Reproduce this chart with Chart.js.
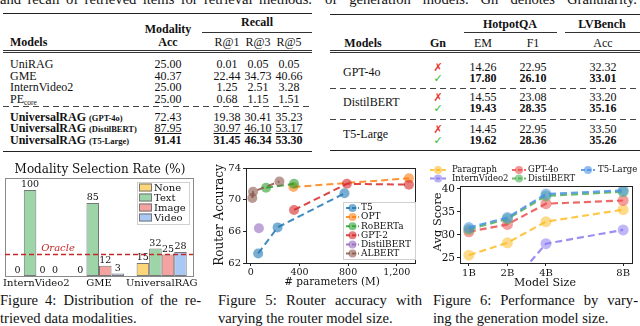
<!DOCTYPE html>
<html>
<head>
<meta charset="utf-8">
<script src="https://cdn.jsdelivr.net/npm/chart.js@4.4.1/dist/chart.umd.min.js"></script>
<style>
html,body{margin:0;padding:0;background:#fff;}
body{width:640px;height:326px;position:relative;overflow:hidden;font-family:"Liberation Serif","Times New Roman",serif;color:#111;}
.t{position:absolute;white-space:nowrap;font-size:12px;line-height:12px;}
.t sub{font-size:7.5px;line-height:0;vertical-align:-2px;}
.b{font-weight:bold;}
.u{text-decoration:underline;}
.sm{font-size:8.5px;font-weight:bold;}
.cap{position:absolute;white-space:nowrap;font-size:14.6px;line-height:18px;}
.just{text-align:justify;text-align-last:justify;white-space:normal;}
.rule{position:absolute;height:0;border-top:1.5px solid #222;}
.thin{position:absolute;height:0;border-top:0.8px solid #333;}
.dash{position:absolute;height:1px;background:repeating-linear-gradient(90deg,#444 0 6px,transparent 6px 10px);}
.mk{font-family:"DejaVu Sans",sans-serif;font-size:11px;}
canvas{position:absolute;}
</style>
</head>
<body>

<div class="cap just" style="left:0;top:-10px;width:312px;">and recall of retrieved items for retrieval methods.</div>
<div class="cap just" style="left:325px;top:-10px;width:312px;">of generation models. Gn denotes Granularity.</div>

<canvas id="fig4" width="205" height="135" style="left:0;top:155px;"></canvas>
<canvas id="fig5" width="215" height="135" style="left:205px;top:155px;"></canvas>
<canvas id="fig6" width="220" height="135" style="left:420px;top:155px;"></canvas>

<div class="cap just" style="left:0;top:291px;width:201px;">Figure 4: Distribution of the re-</div>
<div class="cap" style="left:0;top:309px;">trieved data modalities.</div>
<div class="cap just" style="left:218px;top:291px;width:204px;">Figure 5: Router accuracy with</div>
<div class="cap" style="left:218px;top:309px;">varying the router model size.</div>
<div class="cap just" style="left:433px;top:291px;width:205px;">Figure 6: Performance by vary-</div>
<div class="cap" style="left:433px;top:309px;">ing the generation model size.</div>

<script>
// ---- table 1: retrieval ----
const retModels = ['UniRAG', 'GME', 'InternVideo2', 'PE<sub>core</sub>'];
const retAcc = ['25.00', '40.37', '25.00', '25.00'];
const retR1 = ['0.01', '22.44', '1.25', '0.68'];
const retR3 = ['0.05', '34.73', '2.51', '1.15'];
const retR5 = ['0.05', '40.66', '3.28', '1.51'];
const oursRouters = ['GPT-4o', 'DistilBERT', 'T5-Large'];
const oursAcc = ['72.43', '87.95', '91.41'];
const oursR1 = ['19.38', '30.97', '31.45'];
const oursR3 = ['30.41', '46.10', '46.34'];
const oursR5 = ['35.23', '53.17', '53.30'];

// ---- table 2: granularity ----
const genModels = ['GPT-4o', 'DistilBERT', 'T5-Large'];
const emNo = ['14.26', '14.55', '14.45'], emYes = ['17.80', '19.43', '19.62'];
const f1No = ['22.95', '23.08', '22.95'], f1Yes = ['26.10', '28.35', '28.36'];
const lvNo = ['32.32', '33.20', '33.50'], lvYes = ['33.01', '35.16', '35.26'];

// ---- figure 4 ----
const f4Groups = ['InternVideo2', 'GME', 'UniversalRAG'];
const f4Modalities = ['None', 'Text', 'Image', 'Video'];
const f4None = [0, 0, 15];
const f4Text = [100, 85, 32];
const f4Image = [0, 12, 25];
const f4Video = [0, 3, 28];
const f4Oracle = 25;
const f4Colors = ['#fdd67a', '#9dd5a8', '#f4a3a0', '#a9c8f4'];

// ---- figure 5 ----
const f5Series = ['T5', 'OPT', 'RoBERTa', 'GPT-2', 'DistilBERT', 'ALBERT'];
const f5Params = [[60, 220, 770], [350, 1300], [125, 355], [355, 790, 1300], [66], [12, 18, 235]];
const f5Acc = [[63.2, 66.5, 70.8], [71.6, 72.7], [71.5, 72.0], [68.7, 72.0, 71.9], [66.4], [70.2, 71.0, 72.3]];
const f5Colors = ['#1f77b4', '#ff7f0e', '#2ca02c', '#d62728', '#9467bd', '#8c564b'];

// ---- figure 6 ----
const f6Sizes = ['1B', '2B', '4B', '8B'];
const f6Slots = [0, 1, 2, 4];
const f6Series = ['Paragraph', 'InternVideo2', 'GPT-4o', 'DistilBERT', 'T5-Large'];
const f6Paragraph = [25.6, 28.3, 32.9, 35.5];
const f6InternVideo2 = [15.0, 18.4, 28.1, 31.1];
const f6Gpt4o = [30.7, 32.3, 36.8, 37.5];
const f6DistilBert = [31.2, 33.5, 38.5, 39.4];
const f6T5Large = [31.6, 33.8, 38.9, 39.7];
const f6Colors = ['#fdbd2a', '#8a7cf0', '#ec4f4f', '#4fb253', '#4a90e6'];

function put(html, x, y, align, cls){
  const d = document.createElement('div');
  d.className = 't ' + (cls || '');
  d.innerHTML = html;
  d.style.top = (y - 6) + 'px';
  d.style.left = x + 'px';
  if (align === 'c') d.style.transform = 'translateX(-50%)';
  document.body.appendChild(d);
}
function line(cls, x1, x2, y){
  const d = document.createElement('div');
  d.className = cls;
  d.style.left = x1 + 'px'; d.style.width = (x2 - x1) + 'px'; d.style.top = y + 'px';
  document.body.appendChild(d);
}

// table 1
line('rule', 3, 312, 13);
put('Recall', 257, 22, 'c', 'b');
line('thin', 202, 312, 32);
put('Modality', 168, 28.5, 'c', 'b');
put('Models', 10, 41.5, 'l', 'b');
put('Acc', 168, 41.5, 'c', 'b');
['R@1', 'R@3', 'R@5'].forEach((h, i) => put(h, [227, 258, 289][i], 41.5, 'c'));
line('thin', 3, 312, 49.5); line('thin', 3, 312, 52);
retModels.forEach((m, i) => {
  const y = 64 + i * 11.5;
  put(m, 10, y);
  put(retAcc[i], 168, y, 'c'); put(retR1[i], 227, y, 'c'); put(retR3[i], 258, y, 'c'); put(retR5[i], 289, y, 'c');
});
line('dash', 3, 312, 106);
oursRouters.forEach((r, i) => {
  const y = 116.5 + i * 11.7;
  const c = i === 1 ? 'u' : (i === 2 ? 'b' : '');
  put('<b>UniversalRAG</b> <span class="sm">(' + r + ')</span>', 10, y);
  put(oursAcc[i], 168, y, 'c', c); put(oursR1[i], 227, y, 'c', c); put(oursR3[i], 258, y, 'c', c); put(oursR5[i], 289, y, 'c', c);
});
line('rule', 3, 312, 151);

// table 2
line('rule', 330, 640, 14);
put('HotpotQA', 510, 24, 'c', 'b');
put('LVBench', 602, 24, 'c', 'b');
line('thin', 464, 557, 32); line('thin', 565, 640, 32);
put('Models', 363, 43, 'c', 'b');
put('Gn', 438, 43, 'c', 'b');
put('EM', 483, 43, 'c'); put('F1', 533, 43, 'c'); put('Acc', 603, 43, 'c');
line('thin', 330, 640, 49.5); line('thin', 330, 640, 52);
genModels.forEach((m, i) => {
  const y0 = [66.5, 96.5, 128.5][i];
  put(m, 343, y0 + 5.7);
  put('<span class="mk" style="color:#e8322e">✗</span>', 438, y0, 'c');
  put('<span class="mk" style="color:#2db82d">✓</span>', 438, y0 + 11.5, 'c');
  put(emNo[i], 483, y0, 'c'); put(f1No[i], 533, y0, 'c'); put(lvNo[i], 603, y0, 'c');
  put(emYes[i], 483, y0 + 11.5, 'c', 'b'); put(f1Yes[i], 533, y0 + 11.5, 'c', 'b'); put(lvYes[i], 603, y0 + 11.5, 'c', 'b');
});
line('dash', 330, 640, 88); line('dash', 330, 640, 118.5);
line('rule', 330, 640, 150);

// ---- charts ----
const SERIF = '"DejaVu Serif"';
function rgba(hex, a){
  const n = parseInt(hex.slice(1), 16);
  return `rgba(${n >> 16},${(n >> 8) & 255},${n & 255},${a})`;
}
function frame(ctx, a, color){
  ctx.save(); ctx.strokeStyle = color; ctx.lineWidth = 1;
  ctx.strokeRect(Math.round(a.left) + 0.5, Math.round(a.top) + 0.5, Math.round(a.right - a.left), Math.round(a.bottom - a.top));
  ctx.restore();
}
function legendEntry(ctx, x0, x1, y, color, label, tx, font){
  ctx.save();
  ctx.strokeStyle = rgba(color, 0.85); ctx.lineWidth = 2; ctx.setLineDash([4, 2]);
  ctx.beginPath(); ctx.moveTo(x0, y); ctx.lineTo(x1, y); ctx.stroke();
  ctx.fillStyle = rgba(color, 0.6);
  ctx.beginPath(); ctx.arc((x0 + x1) / 2, y, 4, 0, Math.PI * 2); ctx.fill();
  ctx.fillStyle = '#111'; ctx.font = font; ctx.textBaseline = 'middle'; ctx.textAlign = 'left';
  ctx.fillText(label, tx, y);
  ctx.restore();
}
function text(ctx, s, x, y, font, color){
  ctx.save(); ctx.font = font; ctx.fillStyle = color || '#111';
  ctx.textAlign = 'center'; ctx.textBaseline = 'middle';
  ctx.fillText(s, x, y); ctx.restore();
}
function yTitle(ctx, s, x, y, font){
  ctx.save(); ctx.translate(x, y); ctx.rotate(-Math.PI / 2);
  text(ctx, s, 0, 0, font); ctx.restore();
}

// figure 4
const f4Decor = {
  id: 'f4Decor',
  afterDatasetsDraw(chart){
    const ctx = chart.ctx, a = chart.chartArea, ys = chart.scales.y;
    frame(ctx, a, '#8a8a8a');
    ctx.save();
    ctx.font = '9.5px ' + SERIF; ctx.fillStyle = '#111'; ctx.textAlign = 'center'; ctx.textBaseline = 'bottom';
    chart.data.datasets.forEach((ds, di) => {
      chart.getDatasetMeta(di).data.forEach((bar, i) => ctx.fillText(String(ds.data[i]), bar.x, bar.y - 0.5));
    });
    const oy = ys.getPixelForValue(f4Oracle);
    ctx.strokeStyle = '#c62828'; ctx.lineWidth = 1.5; ctx.setLineDash([5, 3]);
    ctx.beginPath(); ctx.moveTo(a.left, oy); ctx.lineTo(a.right, oy); ctx.stroke();
    ctx.setLineDash([]);
    ctx.fillStyle = '#c62828'; ctx.font = 'italic 10px ' + SERIF;
    ctx.fillText('Oracle', 58, oy - 1);
    // legend
    ctx.fillStyle = 'rgba(255,255,255,0.85)'; ctx.strokeStyle = '#d0d0d0'; ctx.lineWidth = 1;
    ctx.fillRect(137, 27, 52, 42); ctx.strokeRect(137.5, 27.5, 52, 42);
    f4Modalities.forEach((m, i) => {
      const y = 32.5 + i * 10;
      ctx.fillStyle = f4Colors[i]; ctx.fillRect(139, y - 4, 13, 8);
      ctx.strokeStyle = '#777'; ctx.strokeRect(139.5, y - 3.5, 12, 7);
      ctx.fillStyle = '#111'; ctx.font = '10px ' + SERIF; ctx.textAlign = 'left'; ctx.textBaseline = 'middle';
      ctx.fillText(m, 154, y + 0.5);
    });
    ctx.restore();
    text(ctx, 'Modality Selection Rate (%)', 100, 15, '12px ' + SERIF);
  }
};
new Chart(document.getElementById('fig4'), {
  type: 'bar',
  data: {
    labels: f4Groups,
    datasets: [f4None, f4Text, f4Image, f4Video].map((d, i) => ({
      label: f4Modalities[i], data: d, backgroundColor: f4Colors[i], borderColor: '#777', borderWidth: 1,
      borderSkipped: false, categoryPercentage: 0.8, barPercentage: 1
    }))
  },
  options: {
    responsive: false, animation: false,
    layout: {padding: {left: 5, right: 12, top: 23, bottom: 0}},
    plugins: {legend: {display: false}, tooltip: {enabled: false}},
    scales: {
      x: {grid: {display: false, drawTicks: false}, border: {display: false},
          ticks: {font: {family: 'DejaVu Serif', size: 10}, color: '#111', padding: 1, maxRotation: 0, minRotation: 0, autoSkip: false},
          afterFit: s => { s.height = 14; }},
      y: {display: false, min: 0, max: 114}
    }
  },
  plugins: [f4Decor]
});

// figure 5
const f5Decor = {
  id: 'f5Decor',
  afterDatasetsDraw(chart){
    const ctx = chart.ctx, a = chart.chartArea;
    frame(ctx, a, '#222');
    yTitle(ctx, 'Router Accuracy', 15, 60, '12px ' + SERIF);
    text(ctx, '# parameters (M)', 127, 127.5, '10.5px ' + SERIF);
    ctx.save();
    ctx.fillStyle = 'rgba(255,255,255,0.85)'; ctx.strokeStyle = '#d0d0d0'; ctx.lineWidth = 1;
    ctx.fillRect(138, 47, 72, 57); ctx.strokeRect(138.5, 47.5, 72, 57);
    ctx.restore();
    f5Series.forEach((s, i) => legendEntry(ctx, 141, 154, 53 + i * 9.1, f5Colors[i], s, 156, '9px ' + SERIF));
  }
};
new Chart(document.getElementById('fig5'), {
  type: 'scatter',
  data: {
    datasets: f5Series.map((s, i) => ({
      label: s, order: f5Series.length - i, showLine: true,
      data: f5Params[i].map((p, j) => ({x: p, y: f5Acc[i][j]})),
      borderColor: rgba(f5Colors[i], 0.85), borderWidth: 2, borderDash: [7, 4],
      pointRadius: 5, pointBorderWidth: 0, pointBackgroundColor: rgba(f5Colors[i], 0.6)
    }))
  },
  options: {
    responsive: false, animation: false,
    layout: {padding: {left: 0, right: 3, top: 13, bottom: 0}},
    plugins: {legend: {display: false}, tooltip: {enabled: false}},
    scales: {
      x: {type: 'linear', min: -40, max: 1350,
          grid: {drawOnChartArea: false, drawTicks: true, tickLength: 3, color: '#222'}, border: {display: false},
          ticks: {stepSize: 400, includeBounds: false, font: {family: 'DejaVu Serif', size: 9.5}, color: '#111', padding: 1, maxRotation: 0},
          afterFit: s => { s.height = 27; }},
      y: {min: 62, max: 74,
          grid: {drawOnChartArea: false, drawTicks: true, tickLength: 3, color: '#222'}, border: {display: false},
          ticks: {stepSize: 4, includeBounds: false, font: {family: 'DejaVu Serif', size: 10}, color: '#111', padding: 2},
          afterFit: s => { s.width = 41; }}
    }
  },
  plugins: [f5Decor]
});

// figure 6
const f6Values = [f6Paragraph, f6InternVideo2, f6Gpt4o, f6DistilBert, f6T5Large];
const f6Decor = {
  id: 'f6Decor',
  afterDatasetsDraw(chart){
    const ctx = chart.ctx, a = chart.chartArea;
    frame(ctx, a, '#222');
    yTitle(ctx, 'Avg Score', 18, 67, '11.5px ' + SERIF);
    text(ctx, 'Model Size', 125, 128, '11px ' + SERIF);
    const cols = [[10, 26, 32], [92, 106, 108], [161, 175, 178]];
    f6Series.forEach((s, i) => {
      const c = cols[Math.floor(i / 2)], y = i % 2 ? 23.5 : 15;
      legendEntry(ctx, c[0], c[1], y, f6Colors[i], s, c[2], '8.5px ' + SERIF);
    });
  }
};
new Chart(document.getElementById('fig6'), {
  type: 'scatter',
  data: {
    datasets: f6Series.map((s, i) => ({
      label: s, order: f6Series.length - i, showLine: true, clip: 0,
      data: f6Slots.map((x, j) => ({x: x, y: f6Values[i][j]})),
      borderColor: rgba(f6Colors[i], 0.85), borderWidth: 2.2, borderDash: [7, 4],
      pointRadius: 5.5, pointBorderWidth: 0, pointBackgroundColor: rgba(f6Colors[i], 0.55)
    }))
  },
  options: {
    responsive: false, animation: false,
    layout: {padding: {left: 0, right: 8, top: 31, bottom: 0}},
    plugins: {legend: {display: false}, tooltip: {enabled: false}},
    scales: {
      x: {type: 'linear', min: -0.23, max: 4.23,
          afterBuildTicks: s => { s.ticks = f6Slots.map(v => ({value: v})); },
          grid: {drawOnChartArea: false, drawTicks: true, tickLength: 3, color: '#222'}, border: {display: false},
          ticks: {callback: v => f6Sizes[f6Slots.indexOf(v)], font: {family: 'DejaVu Serif', size: 10}, color: '#111', padding: 1, maxRotation: 0},
          afterFit: s => { s.height = 27; }},
      y: {min: 23.9, max: 40.65,
          grid: {drawOnChartArea: false, drawTicks: true, tickLength: 3, color: '#222'}, border: {display: false},
          ticks: {stepSize: 5, includeBounds: false, font: {family: 'DejaVu Serif', size: 10.5}, color: '#111', padding: 2},
          afterFit: s => { s.width = 40; }}
    }
  },
  plugins: [f6Decor]
});
</script>
</body>
</html>
